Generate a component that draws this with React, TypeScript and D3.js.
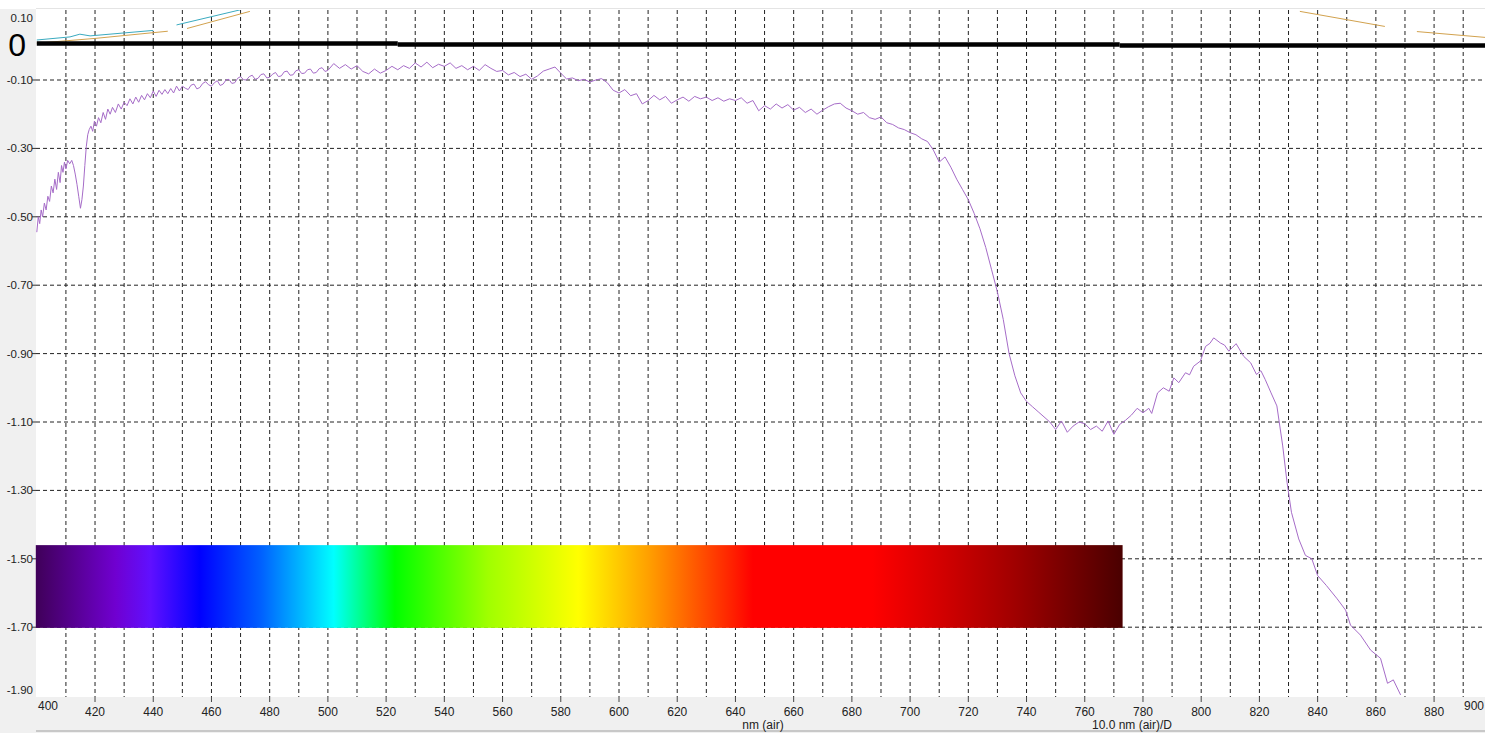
import React from 'react';
import * as d3 from 'd3';

// wavelength (nm) vs. value
const spectrum: [number, number][] = [
  [400, -0.545], [400.5, -0.5], [401, -0.52], [401.5, -0.48], [402, -0.5], [402.6, -0.46], [403.2, -0.48],
  [403.8, -0.44], [404.4, -0.455], [405, -0.41], [405.6, -0.43], [406.2, -0.39], [406.8, -0.42], [407.4, -0.37],
  [408, -0.4], [408.5, -0.35], [409, -0.37], [409.5, -0.34], [410, -0.36], [410.6, -0.335], [411.3, -0.345],
  [412, -0.335], [412.6, -0.35], [413.2, -0.375], [413.8, -0.405], [414.4, -0.44], [415, -0.475], [415.5, -0.45],
  [416, -0.41], [416.5, -0.35], [417, -0.295], [417.5, -0.26], [418, -0.245], [418.6, -0.235], [419.2, -0.25],
  [419.8, -0.22], [420.5, -0.235], [421.2, -0.21], [422, -0.225], [422.8, -0.195], [423.6, -0.215], [424.4, -0.185],
  [425.2, -0.2], [426, -0.18], [427, -0.195], [428, -0.17], [429, -0.185], [430, -0.165], [431, -0.175],
  [432, -0.155], [433, -0.17], [434, -0.15], [435, -0.165], [436, -0.145], [437, -0.158], [438, -0.14],
  [439, -0.152], [440, -0.132], [441, -0.148], [442, -0.13], [443, -0.142], [444, -0.128], [445, -0.14],
  [446, -0.125], [447, -0.138], [448, -0.118], [449, -0.132], [450, -0.118], [451, -0.124], [452, -0.128],
  [453, -0.115], [454, -0.112], [455, -0.126], [456, -0.122], [457, -0.11], [458, -0.105], [459, -0.114],
  [460, -0.118], [461, -0.108], [462, -0.102], [463, -0.116], [464, -0.112], [465, -0.1], [466, -0.098],
  [467, -0.11], [468, -0.108], [469, -0.095], [470, -0.09], [471, -0.099], [472, -0.1], [473, -0.09],
  [474, -0.086], [475, -0.098], [476, -0.095], [477, -0.084], [478, -0.082], [479, -0.094], [480, -0.092],
  [481, -0.083], [482, -0.078], [483, -0.09], [484, -0.088], [485, -0.076], [486, -0.074], [487, -0.086],
  [488, -0.085], [489, -0.073], [490, -0.07], [491, -0.081], [492, -0.08], [493, -0.07], [494, -0.068],
  [495, -0.08], [496, -0.078], [497, -0.067], [498, -0.064], [499, -0.075], [500, -0.072], [502, -0.052],
  [504, -0.066], [506, -0.055], [508, -0.068], [510, -0.058], [512, -0.075], [514, -0.082], [516, -0.068],
  [518, -0.08], [520, -0.072], [522, -0.06], [524, -0.07], [526, -0.058], [528, -0.066], [530, -0.05],
  [532, -0.062], [534, -0.048], [536, -0.064], [538, -0.054], [540, -0.06], [542, -0.05], [544, -0.066],
  [546, -0.058], [548, -0.07], [550, -0.06], [552, -0.072], [554, -0.055], [556, -0.066], [558, -0.075],
  [560, -0.072], [562, -0.085], [564, -0.078], [566, -0.09], [568, -0.083], [570, -0.098], [572, -0.088],
  [574, -0.074], [576, -0.068], [578, -0.062], [580, -0.08], [582, -0.097], [584, -0.094], [586, -0.102],
  [588, -0.098], [590, -0.106], [592, -0.1], [594, -0.096], [596, -0.108], [598, -0.13], [600, -0.138],
  [602, -0.128], [604, -0.146], [606, -0.14], [608, -0.17], [610, -0.16], [612, -0.145], [614, -0.158],
  [616, -0.148], [618, -0.168], [620, -0.158], [622, -0.15], [624, -0.162], [626, -0.148], [628, -0.155],
  [630, -0.15], [632, -0.16], [634, -0.152], [636, -0.162], [638, -0.155], [640, -0.16], [642, -0.152],
  [644, -0.168], [646, -0.16], [648, -0.19], [650, -0.175], [652, -0.185], [654, -0.17], [656, -0.182],
  [658, -0.172], [660, -0.188], [662, -0.18], [664, -0.195], [666, -0.185], [668, -0.2], [670, -0.188],
  [672, -0.178], [674, -0.17], [676, -0.168], [678, -0.182], [680, -0.19], [682, -0.2], [684, -0.195],
  [686, -0.21], [688, -0.215], [690, -0.208], [692, -0.225], [694, -0.23], [696, -0.24], [698, -0.245],
  [700, -0.254], [702, -0.26], [704, -0.272], [706, -0.28], [708, -0.305], [710, -0.34], [712, -0.325],
  [714, -0.355], [716, -0.39], [718, -0.42], [720, -0.45], [722, -0.49], [724, -0.535], [726, -0.59],
  [728, -0.655], [730, -0.72], [732, -0.8], [734, -0.9], [736, -0.965], [738, -1.015], [740, -1.04],
  [742, -1.055], [744, -1.07], [746, -1.085], [748, -1.1], [750, -1.122], [752, -1.097], [754, -1.13],
  [756, -1.112], [758, -1.1], [760, -1.105], [762, -1.122], [764, -1.112], [766, -1.127], [768, -1.097],
  [770, -1.136], [772, -1.107], [774, -1.095], [776, -1.08], [778, -1.06], [780, -1.073], [782, -1.06],
  [783, -1.075], [785, -1.015], [787, -1.0], [789, -1.01], [790.6, -0.971], [792.3, -0.985], [794.6, -0.956],
  [796, -0.962], [797.4, -0.937], [799.7, -0.922], [801.5, -0.879], [803, -0.87], [804.3, -0.854],
  [806.6, -0.869], [808, -0.875], [809.5, -0.893], [812, -0.871], [814.6, -0.908], [817, -0.927],
  [819, -0.961], [820.5, -0.95], [822, -0.976], [824, -1.015], [826, -1.053], [828, -1.17], [829.5, -1.277],
  [831, -1.364], [833.5, -1.442], [835.8, -1.49], [838, -1.5], [840, -1.549], [843, -1.578], [846.7, -1.617],
  [849.6, -1.65], [851.3, -1.694], [854.7, -1.723], [858.2, -1.767], [861.6, -1.791], [864, -1.864],
  [866, -1.854], [868.5, -1.898],
];

// faint reference traces along the top edge
const cyanTraces: [number, number][][] = [
  [[400, 0.017], [411.4, 0.026], [414.8, 0.034], [418.3, 0.029], [440, 0.045]],
  [[448, 0.061], [469.8, 0.105]],
];
const orangeTraces: [number, number][][] = [
  [[400, 0.012], [420, 0.026], [445, 0.047]],
  [[451.6, 0.055], [473.2, 0.105]],
  [[833.9, 0.105], [863.1, 0.061]],
  [[874.1, 0.046], [897.5, 0.029]],
];

// heavy zero line, drawn in three slightly offset pieces
const zeroPieces: [number, number, number][] = [
  [400, 524, 0.0067],
  [524, 772, 0.0038],
  [772, 900, 0.0009],
];

// colour strip
const stripRange = [400, 773];
const stripValues = [-1.46, -1.702];
const stripStops: [number, string][] = [
  [400, '#40005a'], [427, '#7000d0'], [439, '#6010ff'], [456, '#0000ff'], [477, '#0060ff'],
  [502, '#00ffff'], [523, '#00ff00'], [555, '#a0ff00'], [586, '#ffff00'], [610, '#ffa000'],
  [639, '#ff2000'], [646, '#ff0000'], [687, '#ff0000'], [712, '#d00000'], [736, '#a00000'], [773, '#4a0000'],
];

const yTicks = [-0.1, -0.3, -0.5, -0.7, -0.9, -1.1, -1.3, -1.5, -1.7];
const xLabels = [420, 440, 460, 480, 500, 520, 540, 560, 580, 600, 620, 640, 660, 680, 700, 720, 740, 760, 780, 800, 820, 840, 860, 880];
const xGrid = [410, 420, 430, 440, 450, 460, 470, 480, 490, 500, 510, 520, 530, 540, 550, 560, 570, 580, 590, 600, 610, 620, 630, 640, 650, 660, 670, 680, 690, 700, 710, 720, 730, 740, 750, 760, 770, 780, 790, 800, 810, 820, 830, 840, 850, 860, 870, 880, 890];

const W = 1485;
const H = 733;
const FONT = '"Liberation Sans", Arial, sans-serif';

export default function App() {
  const left = 36;
  const top = 10;
  const bottom = 697;

  const x = d3.scaleLinear().domain([400, 900]).range([36.8, 1492.3]);
  const y = d3.scaleLinear().domain([-1.9, 0.1]).range([695.6, 11.6]);

  const line = d3.line<[number, number]>()
    .x((d) => x(d[0]))
    .y((d) => y(d[1]));

  return (
    <svg width={W} height={H} style={{ position: 'fixed', left: 0, top: 0, background: '#fff' }} fontFamily={FONT}>
      <defs>
        <clipPath id="plot">
          <rect x={left} y={top} width={W - left} height={bottom - top} />
        </clipPath>
        <linearGradient id="rainbow" gradientUnits="userSpaceOnUse" x1={x(stripRange[0])} x2={x(stripRange[1])} y1={0} y2={0}>
          {stripStops.map(([nm, c]) => (
            <stop key={nm} offset={(nm - stripRange[0]) / (stripRange[1] - stripRange[0])} stopColor={c} />
          ))}
        </linearGradient>
      </defs>

      <rect x={0} y={0} width={W} height={H} fill="#fff" />
      {/* grey axis panels */}
      <rect x={0} y={9} width={left} height={H - 9} fill="#f0f0f0" />
      <rect x={0} y={bottom} width={W} height={H - bottom} fill="#f0f0f0" />
      <line x1={left} x2={W} y1={731} y2={731} stroke="#a0a0a0" />
      <line x1={left} x2={W} y1={8.5} y2={8.5} stroke="#e4e4e4" />

      {/* grid */}
      <g clipPath="url(#plot)">
        {xGrid.map((v) => (
          <line key={v} x1={x(v)} x2={x(v)} y1={top} y2={bottom} stroke="#222" strokeDasharray="4 3" />
        ))}
        {yTicks.map((v) => (
          <line key={v} x1={left} x2={W} y1={y(v)} y2={y(v)} stroke="#222" strokeDasharray="4 3" />
        ))}
      </g>
      {yTicks.map((v) => (
        <line key={v} x1={left - 4} x2={left} y1={y(v)} y2={y(v)} stroke="#333" />
      ))}

      {/* colour strip */}
      <rect
        x={x(stripRange[0]) - 1}
        y={y(stripValues[0])}
        width={x(stripRange[1]) - x(stripRange[0]) + 1}
        height={y(stripValues[1]) - y(stripValues[0])}
        fill="url(#rainbow)"
      />

      <g clipPath="url(#plot)">
        {cyanTraces.map((t, i) => (
          <path key={`c${i}`} d={line(t) ?? ''} fill="none" stroke="#3aaabf" strokeWidth={1} />
        ))}
        {orangeTraces.map((t, i) => (
          <path key={`o${i}`} d={line(t) ?? ''} fill="none" stroke="#d2a24e" strokeWidth={1} transform="translate(0,1.5)" />
        ))}
        {zeroPieces.map(([a, b, v]) => (
          <line key={a} x1={Math.max(x(a), left)} x2={x(b)} y1={y(v)} y2={y(v)} stroke="#000" strokeWidth={4.5} />
        ))}
        <path d={line(spectrum) ?? ''} fill="none" stroke="#a66cc8" strokeWidth={1} strokeLinejoin="round" />
      </g>

      {/* y labels */}
      <text x={33} y={22} fontSize={11.5} textAnchor="end" fill="#222">0.10</text>
      <text x={26} y={56} fontSize={32} textAnchor="end" fill="#000">0</text>
      {yTicks.map((v) => (
        <text key={v} x={33} y={y(v) + 4} fontSize={11.5} textAnchor="end" fill="#222">{v.toFixed(2)}</text>
      ))}
      <text x={33} y={694} fontSize={11.5} textAnchor="end" fill="#222">-1.90</text>

      {/* x labels */}
      {xLabels.map((v) => (
        <g key={v}>
          <line x1={x(v)} x2={x(v)} y1={bottom} y2={bottom + 5} stroke="#444" />
          <text x={x(v)} y={716} fontSize={12} textAnchor="middle" fill="#222">{v}</text>
        </g>
      ))}
      <text x={48} y={710} fontSize={12} textAnchor="middle" fill="#222">400</text>
      <text x={1464} y={710} fontSize={12} textAnchor="start" fill="#222">900</text>
      <text x={763} y={729} fontSize={12} textAnchor="middle" fill="#222">nm (air)</text>
      <text x={1132} y={729} fontSize={12} textAnchor="middle" fill="#222">10.0 nm (air)/D</text>
    </svg>
  );
}
